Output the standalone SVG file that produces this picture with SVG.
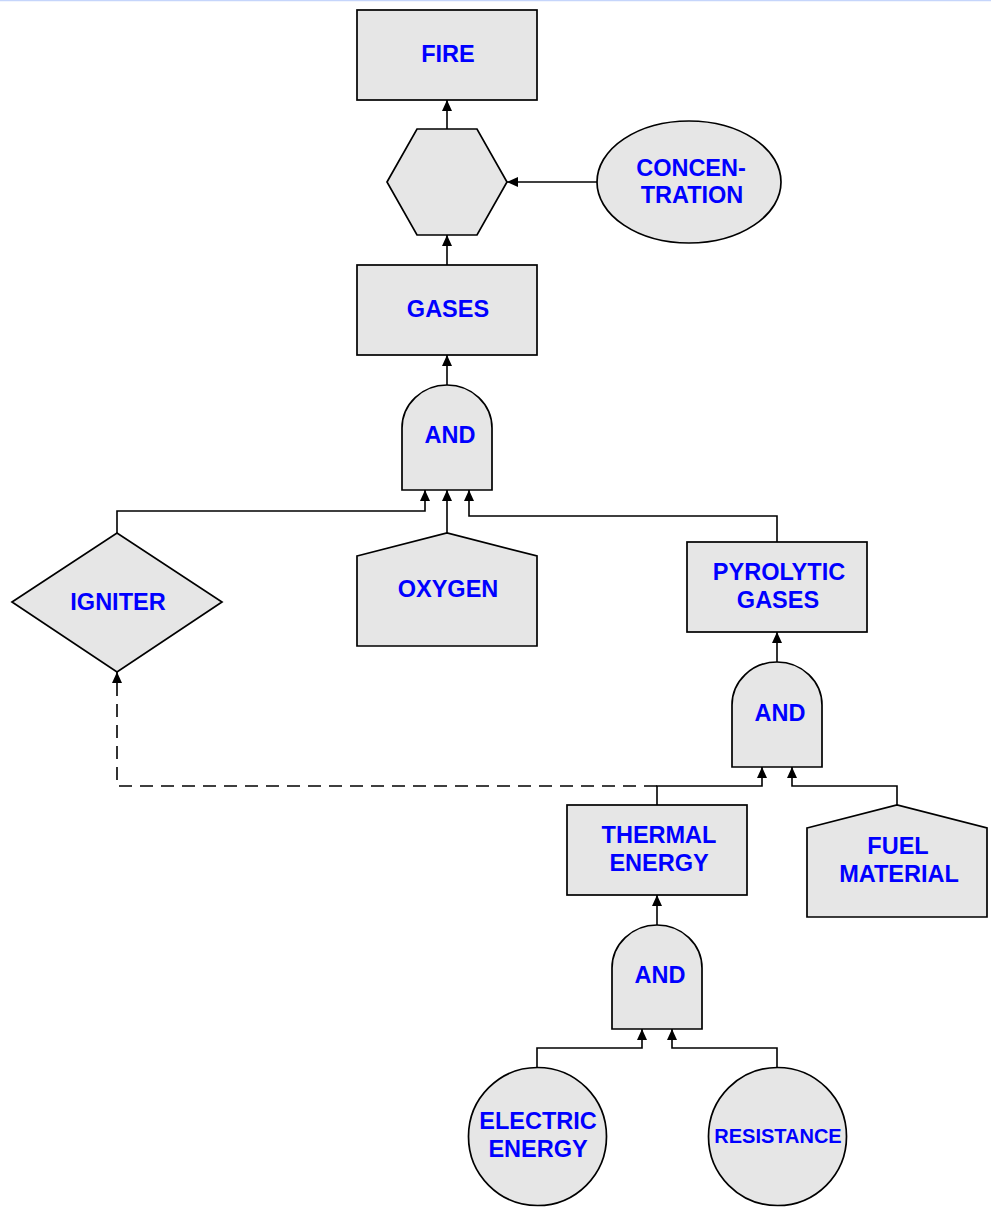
<svg xmlns="http://www.w3.org/2000/svg" width="991" height="1207" viewBox="0 0 991 1207">
<style>
.n{fill:#e6e6e6;stroke:#000;stroke-width:1.7}
.t{font-family:"Liberation Sans",Arial,sans-serif;font-weight:bold;font-size:23.5px;fill:#0000ff;text-anchor:middle}
.s{font-size:20px}
.c{fill:none;stroke:#000;stroke-width:1.6}
.d{stroke-dasharray:13,8}
</style>
<defs>
<marker id="ah" markerUnits="userSpaceOnUse" markerWidth="11" markerHeight="10" refX="11" refY="5" orient="auto">
<path d="M0,0 L11,5 L0,10 Z" fill="#000"/>
</marker>
</defs>
<rect x="0" y="0" width="991" height="1207" fill="#fff"/>
<line x1="0" y1="0.5" x2="991" y2="0.5" stroke="#c5d5fb" stroke-width="1.5"/>
<g id="connectors">
<path class="c" d="M447,129 V100" marker-end="url(#ah)"/>
<path class="c" d="M597,182 H507" marker-end="url(#ah)"/>
<path class="c" d="M447,265 V235" marker-end="url(#ah)"/>
<path class="c" d="M447,385 V355" marker-end="url(#ah)"/>
<path class="c" d="M117,533 V511 H425 V490" marker-end="url(#ah)"/>
<path class="c" d="M447,533 V490" marker-end="url(#ah)"/>
<path class="c" d="M777,542 V516 H469 V490" marker-end="url(#ah)"/>
<path class="c" d="M777,662 V632" marker-end="url(#ah)"/>
<path class="c" d="M657,805 V786 H762 V767" marker-end="url(#ah)"/>
<path class="c" d="M897,805 V786 H792 V767" marker-end="url(#ah)"/>
<path class="c d" d="M657,786 H117 V672" marker-end="url(#ah)"/>
<path class="c" d="M657,925 V895" marker-end="url(#ah)"/>
<path class="c" d="M537,1068 V1048 H642 V1029" marker-end="url(#ah)"/>
<path class="c" d="M777,1068 V1048 H672 V1029" marker-end="url(#ah)"/>
</g>
<g id="fire">
<rect class="n" x="357" y="10" width="180" height="90"/>
<text class="t" x="448" y="62">FIRE</text>
</g>
<g id="hexagon">
<polygon class="n" points="387,182 417,129 477,129 507,182 477,235 417,235"/>
</g>
<g id="concentration">
<ellipse class="n" cx="689" cy="182" rx="92" ry="61"/>
<text class="t" x="691" y="176">CONCEN-</text>
<text class="t" x="692" y="203">TRATION</text>
</g>
<g id="gases">
<rect class="n" x="357" y="265" width="180" height="90"/>
<text class="t" x="448" y="317">GASES</text>
</g>
<g id="and1">
<path class="n" d="M402,490 V428 A45,43 0 0 1 492,428 V490 Z"/>
<text class="t" x="450" y="443">AND</text>
</g>
<g id="igniter">
<polygon class="n" points="12,602 117,533 222,602 117,672"/>
<text class="t" x="118" y="610">IGNITER</text>
</g>
<g id="oxygen">
<polygon class="n" points="357,556 447,533 537,556 537,646 357,646"/>
<text class="t" x="448" y="597">OXYGEN</text>
</g>
<g id="pyrolytic">
<rect class="n" x="687" y="542" width="180" height="90"/>
<text class="t" x="779" y="580">PYROLYTIC</text>
<text class="t" x="778" y="608">GASES</text>
</g>
<g id="and2">
<path class="n" d="M732,767 V705 A45,43 0 0 1 822,705 V767 Z"/>
<text class="t" x="780" y="721">AND</text>
</g>
<g id="thermal">
<rect class="n" x="567" y="805" width="180" height="90"/>
<text class="t" x="659" y="843">THERMAL</text>
<text class="t" x="659" y="871">ENERGY</text>
</g>
<g id="fuel">
<polygon class="n" points="807,828 897,805 987,828 987,917 807,917"/>
<text class="t" x="898" y="854">FUEL</text>
<text class="t" x="899" y="882">MATERIAL</text>
</g>
<g id="and3">
<path class="n" d="M612,1029 V968 A45,43 0 0 1 702,968 V1029 Z"/>
<text class="t" x="660" y="983">AND</text>
</g>
<g id="electric">
<circle class="n" cx="537.5" cy="1136.5" r="69"/>
<text class="t" x="538" y="1129">ELECTRIC</text>
<text class="t" x="538" y="1157">ENERGY</text>
</g>
<g id="resistance">
<circle class="n" cx="777.5" cy="1136.5" r="69"/>
<text class="t s" x="778" y="1143">RESISTANCE</text>
</g>
</svg>
